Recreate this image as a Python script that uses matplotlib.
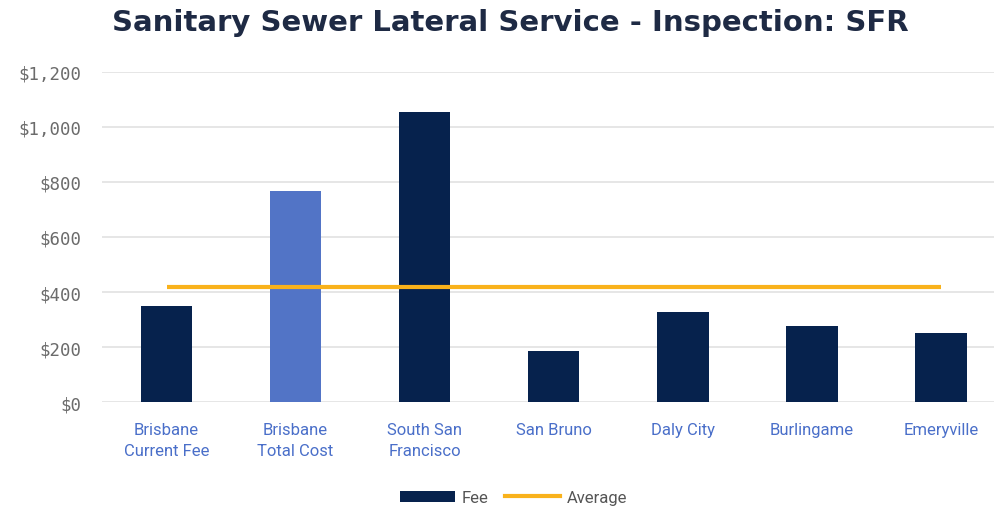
import matplotlib
matplotlib.use("Agg")
import matplotlib.pyplot as plt
from matplotlib.ticker import FuncFormatter
from matplotlib.patches import Patch
from matplotlib.lines import Line2D

categories = ["Brisbane\nCurrent Fee", "Brisbane\nTotal Cost", "South San\nFrancisco",
              "San Bruno", "Daly City", "Burlingame", "Emeryville"]
fees = [350, 765, 1054, 187, 326, 276, 253]
# average of the comparison cities (everything except the two Brisbane bars)
comparison = fees[2:]
average = sum(comparison) / len(comparison)

navy = "#06224D"
light_blue = "#5274C6"
orange = "#F9B21B"
bar_colors = [navy, light_blue, navy, navy, navy, navy, navy]

fig = plt.figure(figsize=(9.95, 5.1), dpi=100)
ax = fig.add_axes([102 / 995, 1 - 403.3 / 510, (995 - 102) / 995, (403.3 - 72.5) / 510])

x = list(range(len(categories)))
ax.bar(x, fees, width=0.4, color=bar_colors, zorder=3)
ax.plot([x[0], x[-1]], [average, average], color=orange, linewidth=3, zorder=4,
        solid_capstyle="butt")

ax.set_ylim(0, 1200)
ax.set_xlim(-0.5, 6.42)
ax.set_yticks(range(0, 1201, 200))
ax.yaxis.set_major_formatter(FuncFormatter(lambda v, _: f"${int(v):,}"))
ax.grid(axis="y", color="#e2e2e2", linewidth=1.2, zorder=0)
ax.set_axisbelow(True)
for s in ax.spines.values():
    s.set_visible(False)
ax.tick_params(axis="both", length=0)
ax.tick_params(axis="y", pad=15)
ax.tick_params(axis="x", pad=14)

ax.set_xticks(x)
ax.set_xticklabels(categories, color="#4A6FC9", fontsize=12, family="Roboto",
                   linespacing=1.55, va="top")
for lbl in ax.get_yticklabels():
    lbl.set_family("DejaVu Sans Mono")
    lbl.set_color("#6b6b6b")
    lbl.set_fontsize(12.5)

fig.text(0.513, 0.955, "Sanitary Sewer Lateral Service - Inspection: SFR",
         ha="center", va="center", fontsize=21, fontweight="bold",
         color="#1E2A44", family="DejaVu Sans")

handles = [Patch(facecolor=navy, label="Fee"),
           Line2D([0], [0], color=orange, linewidth=3, label="Average")]
fig.legend(handles=handles, loc="center", bbox_to_anchor=(0.516, 0.022), ncol=2,
           frameon=False, handlelength=3.3, handleheight=0.7,
           columnspacing=1.0, handletextpad=0.4, labelcolor="#555555",
           prop={"family": "Roboto", "size": 12})

fig.savefig("out.png", dpi=100, facecolor="white")
